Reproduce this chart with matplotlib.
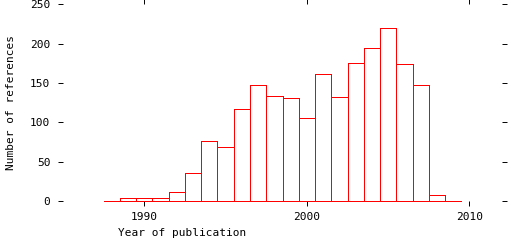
# Histograma de referencias por año de publicación
import matplotlib
matplotlib.use("Agg")
import matplotlib.pyplot as plt

plt.rcParams['font.family'] = 'DejaVu Sans Mono'
plt.rcParams['font.size'] = 8

# datos
years = [1988, 1989, 1990, 1991, 1992, 1993, 1994, 1995, 1996, 1997, 1998,
         1999, 2000, 2001, 2002, 2003, 2004, 2005, 2006, 2007, 2008, 2009]
counts = [0, 4, 4, 4, 11, 35, 76, 68, 117, 148, 133,
          131, 105, 161, 132, 176, 194, 220, 174, 148, 8, 0]
xticks = [1990, 2000, 2010]
yticks = [0, 50, 100, 150, 200, 250]

fig = plt.figure(figsize=(5.12, 2.4), dpi=100)
ax = fig.add_axes([63/512, 1-201/240, (502-63)/512, (201-4.3)/240])

ax.bar(years, counts, width=1.0, fill=False, edgecolor='red',
       linewidth=0.7, antialiased=False, clip_on=False)
# linea base del histograma
ax.hlines(0, years[0] - 0.5, years[-1] + 0.5, color='red', linewidth=0.7,
          antialiased=False, clip_on=False)

ax.set_xlim(1985, 2012)
ax.set_ylim(0, 250)
ax.set_xticks(xticks)
ax.set_yticks(yticks)
for s in ax.spines.values():
    s.set_visible(False)

ax.tick_params(direction='out', length=3.6, width=0.7, color='black',
               top=True, right=True, labeltop=False, labelright=False)
ax.tick_params(axis='y', pad=5.5)
ax.tick_params(axis='x', pad=4)

ax.set_xlabel('Year of publication')
ax.xaxis.set_label_coords((182.5-63)/(502-63), -32/196.7)
ax.xaxis.label.set_va('center')
ax.set_ylabel('Number of references')
ax.yaxis.set_label_coords(-(63-11.5)/(502-63), 0.5)
ax.yaxis.label.set_va('center')

fig.savefig('out.png', dpi=100)
